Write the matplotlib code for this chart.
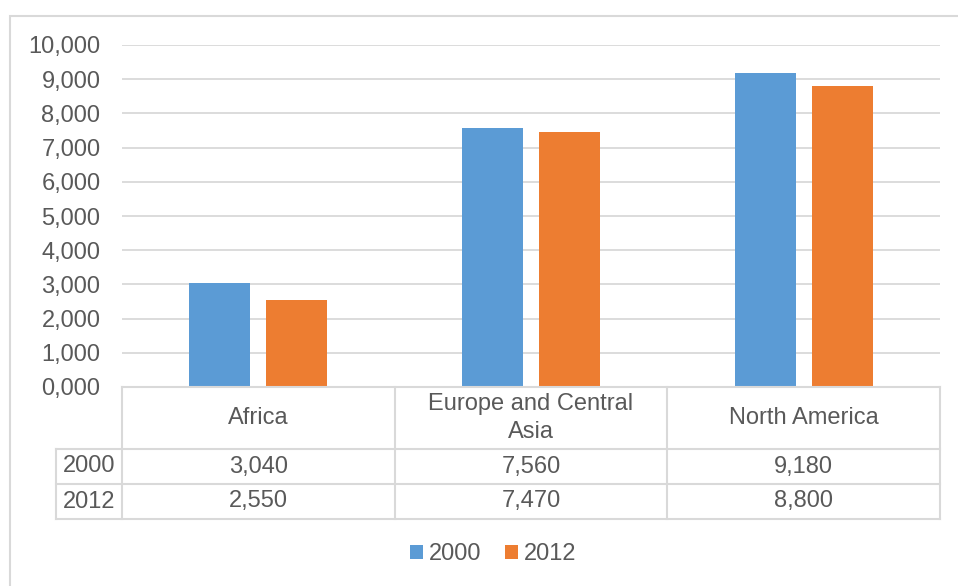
import matplotlib.pyplot as plt
from matplotlib.lines import Line2D
from matplotlib.patches import Rectangle
from matplotlib.ticker import FuncFormatter
import matplotlib.transforms as mtransforms

plt.rcParams['font.family'] = ['Liberation Sans', 'DejaVu Sans']

categories = ['Africa', 'Europe and Central\nAsia', 'North America']
series = ['2000', '2012']
values_2000 = [3040, 7560, 9180]
values_2012 = [2550, 7470, 8800]
colors = ['#5b9bd5', '#ed7d31']
text_color = '#595959'
grid_color = '#d9d9d9'
fs = 17

W, H = 958, 586
fig = plt.figure(figsize=(W / 100, H / 100), dpi=100)

# plot area in pixels
left, right, top, bottom = 122, 940, 45, 387
ax = fig.add_axes([left / W, (H - bottom) / H, (right - left) / W, (bottom - top) / H])

x = range(len(categories))
width = 0.224
off = 0.141
ax.bar([i - off for i in x], values_2000, width, color=colors[0], label=series[0], zorder=2)
ax.bar([i + off for i in x], values_2012, width, color=colors[1], label=series[1], zorder=2)

ax.set_xlim(-0.5, len(categories) - 0.5)
ax.set_ylim(0, 10000)
ax.set_yticks(range(0, 10001, 1000))
ax.yaxis.set_major_formatter(FuncFormatter(lambda v, p: format(int(v), '05,d')))
ax.tick_params(axis='y', length=0, pad=15.5, labelsize=fs, labelcolor=text_color)
ax.set_xticks([])
ax.grid(axis='y', color=grid_color, linewidth=1.3, zorder=0)
for s in ax.spines.values():
    s.set_visible(False)

# data table below the axis
ph = bottom - top
r0 = -62 / ph
r1 = r0 - 35 / ph
r2 = r1 - 35 / ph
lab_left = -66 / (right - left)
tr = mtransforms.blended_transform_factory(ax.transData, ax.transAxes)
lw = 1.5

def hline(y, x0, x1):
    ax.add_line(Line2D([x0, x1], [y, y], transform=ax.transAxes, color=grid_color,
                       lw=lw, clip_on=False))

hline(0, 0, 1)
for y in (r0, r1, r2):
    hline(y, lab_left, 1)
for b in [i - 0.5 for i in range(len(categories) + 1)]:
    ax.add_line(Line2D([b, b], [0, r2], transform=tr, color=grid_color, lw=lw, clip_on=False))
ax.add_line(Line2D([lab_left, lab_left], [r0, r2], transform=ax.transAxes,
                   color=grid_color, lw=lw, clip_on=False))

for i, c in enumerate(categories):
    ax.text(i, r0 / 2, c, transform=tr, ha='center', va='center', fontsize=fs,
            color=text_color, linespacing=1.4)
    ax.text(i, (r0 + r1) / 2, format(values_2000[i], ','), transform=tr, ha='center',
            va='center', fontsize=fs, color=text_color)
    ax.text(i, (r1 + r2) / 2, format(values_2012[i], ','), transform=tr, ha='center',
            va='center', fontsize=fs, color=text_color)
ax.text(lab_left / 2, (r0 + r1) / 2, series[0], transform=ax.transAxes, ha='center',
        va='center', fontsize=fs, color=text_color)
ax.text(lab_left / 2, (r1 + r2) / 2, series[1], transform=ax.transAxes, ha='center',
        va='center', fontsize=fs, color=text_color)

leg = fig.legend(loc='center', bbox_to_anchor=(493 / W, (H - 554) / H), ncol=2,
                 frameon=False, fontsize=fs, handlelength=0.55, handleheight=0.55,
                 handletextpad=0.25, columnspacing=1.0, labelcolor=text_color)

# chart area border
fig.add_artist(Rectangle((10 / W, -0.1), 1.2, (H - 16) / H + 0.1, transform=fig.transFigure,
                         fill=False, edgecolor=grid_color, lw=1.5, clip_on=False))

fig.savefig('out.png', dpi=100)
